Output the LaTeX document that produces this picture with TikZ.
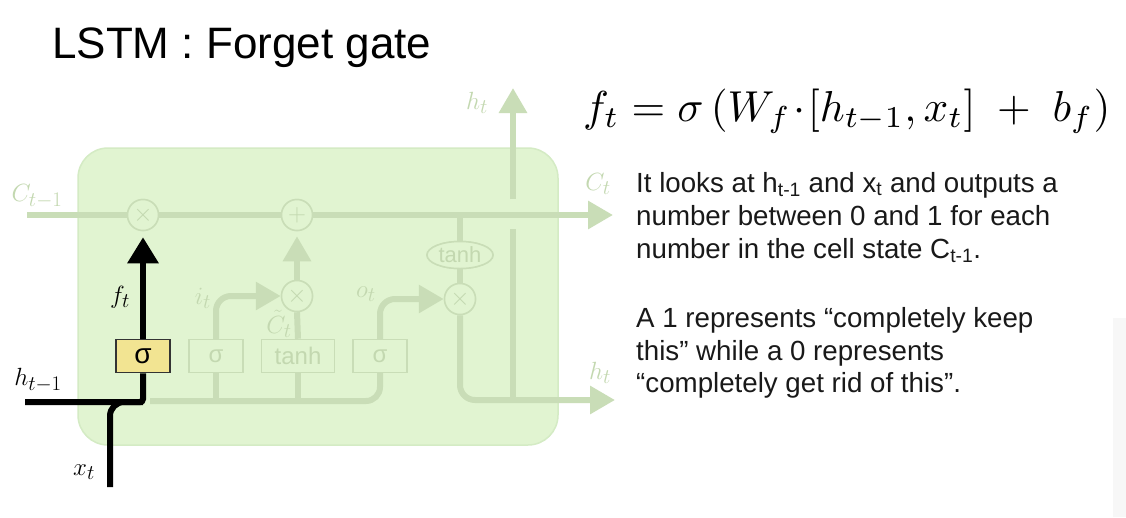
\documentclass[tikz,border=0pt]{standalone}
\usepackage[no-math]{fontspec}
\setmainfont{Liberation Sans}
\usepackage{amsmath}
\usetikzlibrary{arrows.meta,shapes.geometric}
\definecolor{boxfill}{HTML}{E1F4D1}
\definecolor{boxline}{HTML}{D4EBC4}
\definecolor{fade}{HTML}{C9DDB7}
\definecolor{fadetxt}{HTML}{C3D8B0}
\definecolor{sigyel}{HTML}{F2E492}
\tikzset{
  fl/.style={draw=fade,line width=6pt},
  bl/.style={draw=black,line width=6pt},
  fcirc/.style={circle,draw=fade,line width=1.5pt,fill=boxfill,minimum size=31pt,inner sep=0pt,text=fadetxt,font=\fontsize{26}{26}\selectfont},
  fbox/.style={rectangle,draw=fade,line width=1.5pt,fill=boxfill,minimum height=33pt,inner sep=0pt,text=fadetxt,font=\fontsize{24}{24}\selectfont},
  fell/.style={ellipse,draw=fade,line width=1.5pt,fill=boxfill,minimum width=66pt,minimum height=27pt,inner sep=0pt,text=fadetxt,font=\fontsize{22}{22}\selectfont},
  fta/.style={-{Triangle[length=25pt,width=27pt]}},
  lab/.style={text=fadetxt,font=\fontsize{32}{32}\selectfont,inner sep=0pt},
  blab/.style={text=black,font=\fontsize{32}{32}\selectfont,inner sep=0pt},
  para/.style={anchor=base west,inner sep=0pt,font=\fontsize{27.7}{27.7}\selectfont,text=black!90},
}
\begin{document}
\begin{tikzpicture}[x=1pt,y=-1pt]
\useasboundingbox (0,0) rectangle (1126,517);
\fill[white] (0,0) rectangle (1126,517);
% right slide edge
\fill[black!3] (1113,318) rectangle (1126,517);
% title
\node[anchor=base west,inner sep=0pt,font=\fontsize{44}{44}\selectfont] (title) at (52,58) {LSTM : Forget gate};
% cell box
\draw[boxline,fill=boxfill,line width=1.5pt,rounded corners=30pt] (78,148) rectangle (558,445);
% coordinates
\coordinate (cin) at (27,215);
\coordinate (cout) at (613,215);
\coordinate (hin) at (25,402);
\coordinate (hj) at (143,402);
\coordinate (xin) at (110,487);
\coordinate (hout) at (615,400);
\coordinate (htop) at (513,88);
\coordinate (hvbot) at (513,400);
\coordinate (hvmid) at (513,229);
\coordinate (hvup) at (513,199);
\coordinate (ctap) at (460,215);
\coordinate (busl) at (150,401);
\coordinate (busi) at (216,401);
\coordinate (bust) at (298,401);
\coordinate (busend) at (380,373);
% node placement (drawn again later on top)
\path (143,215) node[fcirc] (mulf) {$\times$};
\path (297,215) node[fcirc] (addc) {$+$};
\path (297,296) node[fcirc] (muli) {$\times$};
\path (460,299) node[fcirc] (mulo) {$\times$};
\path (460,255) node[fell] (tanhc) {tanh};
% faded connectors
\draw[fl,fta] (cin) -- (cout);
\draw[fl] (ctap) -- (tanhc.north);
\draw[fl] (tanhc.south) -- (mulo.north);
\draw[fl,rounded corners=15pt,fta] (mulo.south) |- (hout);
\draw[fl] (hvbot) -- (hvmid);
\draw[fl,fta] (hvup) -- (htop);
\draw[fl,rounded corners=14pt] (busl) -| (busend);
\node[fbox,minimum width=54pt] (sigi) at (216,356) {σ};
\node[fbox,minimum width=73pt] (tanhb) at (298,356) {tanh};
\node[fbox,minimum width=54pt] (sigo) at (380,356) {σ};
\draw[fl] (sigi.south) -- (busi);
\draw[fl] (tanhb.south) -- (bust);
\draw[fl,rounded corners=15pt,fta] (sigi.north) |- (muli.west);
\draw[fl,rounded corners=15pt,fta] (sigo.north) |- (mulo.west);
\draw[fl] (tanhb.north) -- (muli.south);
\draw[fl,fta,shorten >=5pt] (muli.north) -- (addc.south);
% circles on top of lines
\node[fcirc] at (mulf) {$\times$};
\node[fcirc] at (addc) {$+$};
\node[fcirc] at (muli) {$\times$};
\node[fcirc] at (mulo) {$\times$};
\node[fell] at (tanhc) {tanh};
% faded labels
\node[lab] (lc1) at (37,196) {$C_{t-1}$};
\node[lab] (lc2) at (598,184) {$C_t$};
\node[lab] (lh1) at (477,103) {$h_t$};
\node[lab] (lh2) at (600,373) {$h_t$};
\node[lab] (lit) at (203,298) {$i_t$};
\node[lab] (lot) at (366,294) {$o_t$};
\node[lab,font=\fontsize{28}{28}\selectfont] (lct) at (279,324) {$\tilde{C}_t$};
% black forget path
\node[rectangle,draw=black!80,line width=1.5pt,fill=sigyel,minimum width=54pt,minimum height=33pt,inner sep=0pt,font=\fontsize{28}{28}\selectfont] (sigf) at (143,356) {σ};
\draw[bl,rounded corners=3pt] (hin) -- (hj) -- (sigf.south);
\draw[bl,rounded corners=14pt] (xin) |- (hj);
\draw[bl,-{Triangle[length=26pt,width=30pt]},shorten >=6pt] (sigf.north) -- (mulf.south);
\node[blab] (lft) at (120,297) {$f_t$};
\node[blab] (lht) at (38,380) {$h_{t-1}$};
\node[blab] (lxt) at (84,472) {$x_t$};
% equation
\node[anchor=base west,inner sep=0pt] (eq) at (583,121) {\resizebox{527pt}{!}{$f_t = \sigma\,(W_f\!\cdot\![h_{t-1}, x_t]\ +\ b_f)$}};
% paragraph
\node[para] (p1) at (636,192) {It looks at h\textsubscript{t-1} and x\textsubscript{t} and outputs a};
\node[para] (p2) at (636,225) {number between 0 and 1 for each};
\node[para] (p3) at (636,258) {number in the cell state C\textsubscript{t-1}.};
\node[para] (p4) at (636,327) {A 1 represents “completely keep};
\node[para] (p5) at (636,360) {this” while a 0 represents};
\node[para] (p6) at (636,392) {“completely get rid of this”.};
\end{tikzpicture}
\end{document}
